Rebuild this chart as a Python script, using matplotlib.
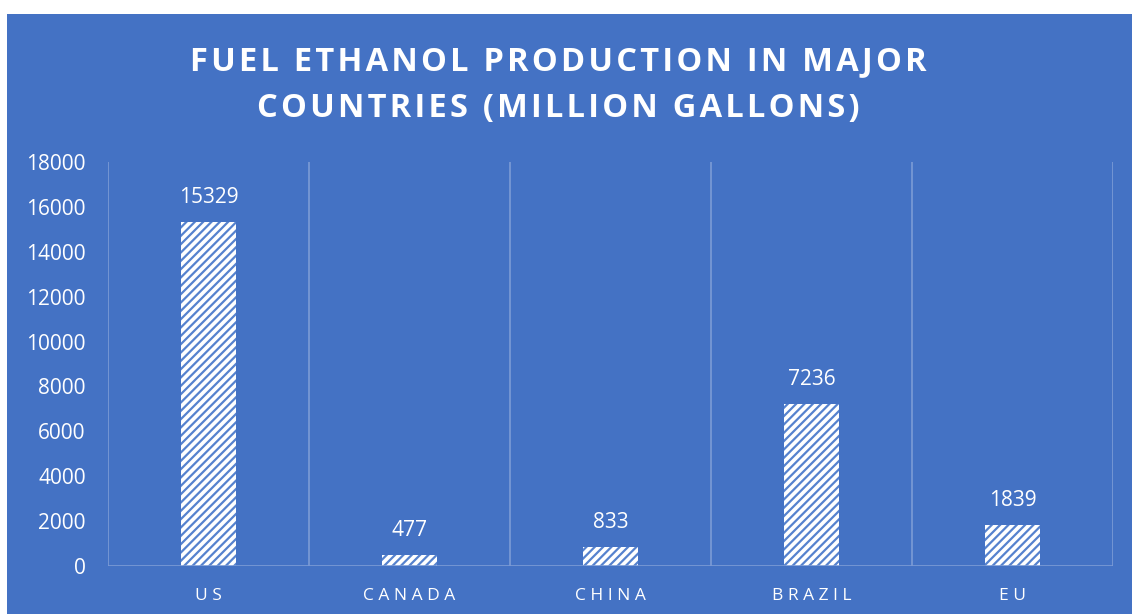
import matplotlib.pyplot as plt
import matplotlib as mpl
from matplotlib.patches import Rectangle

# Fuel ethanol production by country (million gallons)
countries = ['US', 'CANADA', 'CHINA', 'BRAZIL', 'EU']
production = [15329, 477, 833, 7236, 1839]
yticks = [0, 2000, 4000, 6000, 8000, 10000, 12000, 14000, 16000, 18000]
title_lines = ['FUEL ETHANOL PRODUCTION IN MAJOR', 'COUNTRIES (MILLION GALLONS)']

bg = '#4472C4'
grid_col = '#7C9BD6'
hatch_col = '#5682CE'

plt.rcParams['font.family'] = ['Open Sans', 'DejaVu Sans']
mpl.rcParams['hatch.linewidth'] = 1.6


def spaced(s, gap='\u200a'):
    return gap.join(s)


fig = plt.figure(figsize=(11.32, 6.14), dpi=100)
fig.patch.set_facecolor('white')
# blue chart area with thin white margin at top/left
fig.patches.append(Rectangle((7 / 1132, 0), 1 - 7 / 1132, 1 - 14 / 614,
                             transform=fig.transFigure, facecolor=bg,
                             edgecolor='none', zorder=-10))

ax = fig.add_axes([108 / 1132, 1 - 566 / 614, (1113 - 108) / 1132, (566 - 162) / 614])
ax.set_facecolor('none')
ax.set_zorder(5)

x = range(len(countries))
bars = ax.bar(x, production, width=0.27, color='white', edgecolor=hatch_col,
              hatch='////', linewidth=0, zorder=3)

for xi, v in zip(x, production):
    ax.annotate(f'{v}', (xi, v), xytext=(0, 10), textcoords='offset points',
                ha='center', va='bottom', color='white', fontsize=15)

ax.set_xlim(-0.5, len(countries) - 0.5)
ax.set_ylim(0, 18000)
ax.set_yticks(yticks)
ax.set_yticklabels([str(t) for t in yticks], fontsize=15, color='white')
ax.set_xticks(list(x))
ax.set_xticklabels([' '.join(c) for c in countries], fontsize=12.5, color='white')

# vertical separators between categories
for b in range(len(countries) + 1):
    ax.axvline(b - 0.5, color=grid_col, linewidth=1.2, zorder=1)
ax.axhline(0, color=grid_col, linewidth=1.2, zorder=4)

for s in ax.spines.values():
    s.set_visible(False)
ax.tick_params(axis='both', length=0)
ax.tick_params(axis='y', pad=16)
ax.tick_params(axis='x', pad=16)

fig.text(0.493, 1 - 85 / 614, '\n'.join(spaced(t) for t in title_lines),
         ha='center', va='center', color='white', fontsize=23.5, fontweight='bold',
         linespacing=1.52)

fig.savefig('out.png', dpi=100)
